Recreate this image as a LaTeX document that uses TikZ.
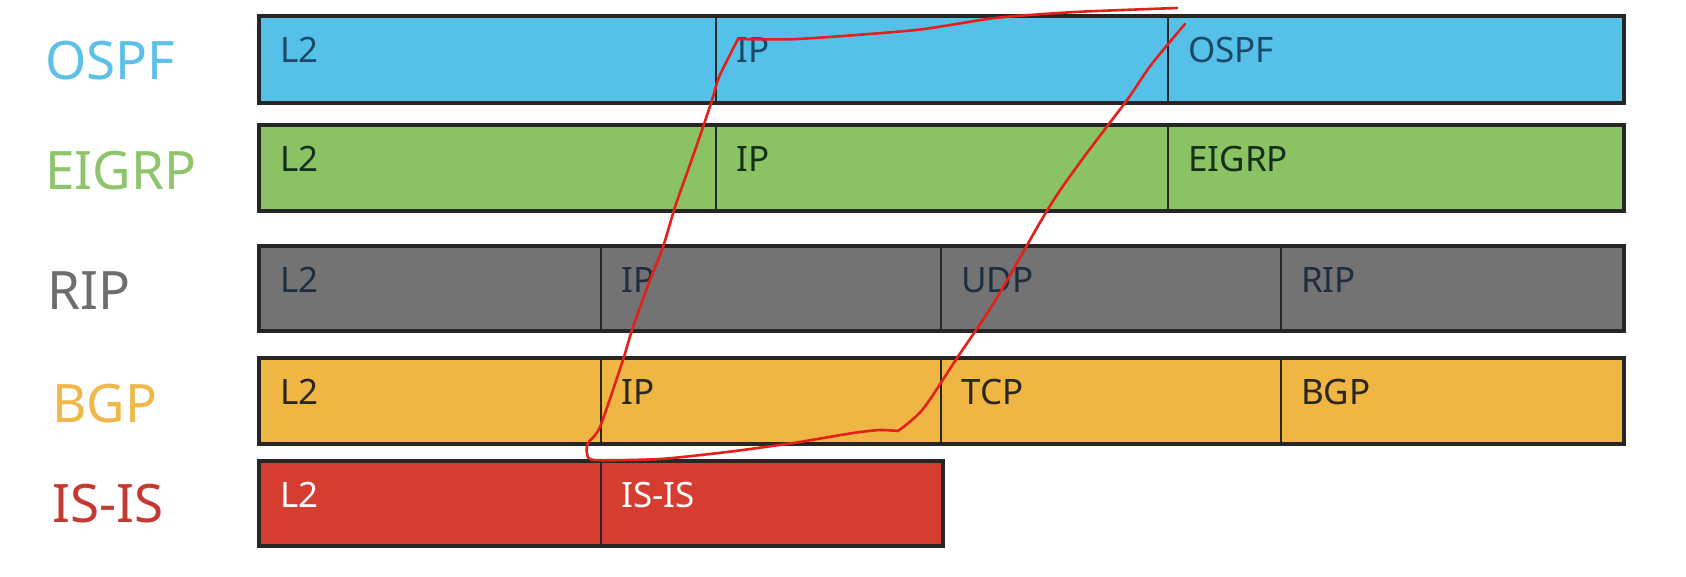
\documentclass[tikz,border=0pt]{standalone}
\usepackage{fontspec}
\setmainfont{Noto Sans}
\usetikzlibrary{calc}
\definecolor{ospfC}{HTML}{55C1E9}
\definecolor{ospfL}{HTML}{5CC0E8}
\definecolor{ospfT}{HTML}{1E4A6A}
\definecolor{eigrpC}{HTML}{8BC263}
\definecolor{eigrpL}{HTML}{8EC56C}
\definecolor{eigrpT}{HTML}{15301A}
\definecolor{ripC}{HTML}{737373}
\definecolor{ripL}{HTML}{6E6E6E}
\definecolor{ripT}{HTML}{1E2E3E}
\definecolor{bgpC}{HTML}{EFB643}
\definecolor{bgpL}{HTML}{F0B84A}
\definecolor{bgpT}{HTML}{2A2620}
\definecolor{isisC}{HTML}{D63C2F}
\definecolor{isisL}{HTML}{C53A30}
\definecolor{edgeC}{HTML}{262626}
\definecolor{penC}{HTML}{E3201B}
\tikzset{
  cell/.style={draw=edgeC, line width=2.2pt, rectangle, inner sep=0pt, anchor=north west},
  rowframe/.style={draw=edgeC, line width=3.5pt},
  celltext/.style={anchor=base west, inner sep=0pt, font=\fontsize{35}{35}\selectfont},
  sidelabel/.style={anchor=base west, inner sep=0pt, font=\fontsize{53}{53}\selectfont},
  pen/.style={draw=penC, line width=2.6pt, line join=round, line cap=round}
}
% \mkcell{name}{x1}{x2}{top}{bottom}{fill}{text colour}{text}
\newcommand{\mkcell}[8]{%
  \node[cell, fill=#6, minimum width=#3-#2, minimum height=#5-#4] (#1) at (#2,#4) {};
  \node[celltext, text=#7] (#1t) at ($(#1.north west)+(21,46)$) {#8};
}
\begin{document}
\begin{tikzpicture}[x=1pt,y=-1pt]
\useasboundingbox (0,0) rectangle (1686,576);
\fill[white] (0,0) rectangle (1686,576);

% OSPF row
\mkcell{o1}{259}{715}{16}{101}{ospfC}{ospfT}{L2}
\mkcell{o2}{715}{1167}{16}{101}{ospfC}{ospfT}{IP}
\mkcell{o3}{1167}{1622}{16}{101}{ospfC}{ospfT}{OSPF}
\draw[rowframe] (o1.north west) rectangle (o3.south east);
\node[sidelabel, text=ospfL] (lo) at (45,79) {OSPF};

% EIGRP row
\mkcell{e1}{259}{715}{125}{209}{eigrpC}{eigrpT}{L2}
\mkcell{e2}{715}{1167}{125}{209}{eigrpC}{eigrpT}{IP}
\mkcell{e3}{1167}{1622}{125}{209}{eigrpC}{eigrpT}{EIGRP}
\draw[rowframe] (e1.north west) rectangle (e3.south east);
\node[sidelabel, text=eigrpL] (le) at (45,189) {EIGRP};

% RIP row
\mkcell{r1}{259}{600}{246}{329}{ripC}{ripT}{L2}
\mkcell{r2}{600}{940}{246}{329}{ripC}{ripT}{IP}
\mkcell{r3}{940}{1280}{246}{329}{ripC}{ripT}{UDP}
\mkcell{r4}{1280}{1622}{246}{329}{ripC}{ripT}{RIP}
\draw[rowframe] (r1.north west) rectangle (r4.south east);
\node[sidelabel, text=ripL] (lr) at (47,309) {RIP};

% BGP row
\mkcell{b1}{259}{600}{358}{442}{bgpC}{bgpT}{L2}
\mkcell{b2}{600}{940}{358}{442}{bgpC}{bgpT}{IP}
\mkcell{b3}{940}{1280}{358}{442}{bgpC}{bgpT}{TCP}
\mkcell{b4}{1280}{1622}{358}{442}{bgpC}{bgpT}{BGP}
\draw[rowframe] (b1.north west) rectangle (b4.south east);
\node[sidelabel, text=bgpL] (lb) at (52,422) {BGP};

% IS-IS row
\mkcell{i1}{259}{600}{461}{544}{isisC}{white}{L2}
\mkcell{i2}{600}{941}{461}{544}{isisC}{white}{IS-IS}
\draw[rowframe] (i1.north west) rectangle (i2.south east);
\node[sidelabel, text=isisL] (li) at (52,522) {IS-IS};

% hand-drawn red line
\draw[pen] plot[smooth, tension=0.4] coordinates {
  (1177,8) (1075,12) (995,18) (916,30) (798,39) (738,39)};
\draw[pen] plot[smooth, tension=0.4] coordinates {
  (738,39) (719,77) (713,97) (701,133) (687,173) (675,207) (663,247)
  (650,280) (632,330) (623,360) (600,427) (588,443) (587,453) (594,460)
  (660,459) (727,452) (793,443) (853,433) (880,430) (898,431)};
\draw[pen] plot[smooth, tension=0.5] coordinates {
  (898,431) (923,409) (957,358) (995,301) (1048,209)
  (1081,161) (1127,100) (1151,65) (1185,24)};
\end{tikzpicture}
\end{document}
